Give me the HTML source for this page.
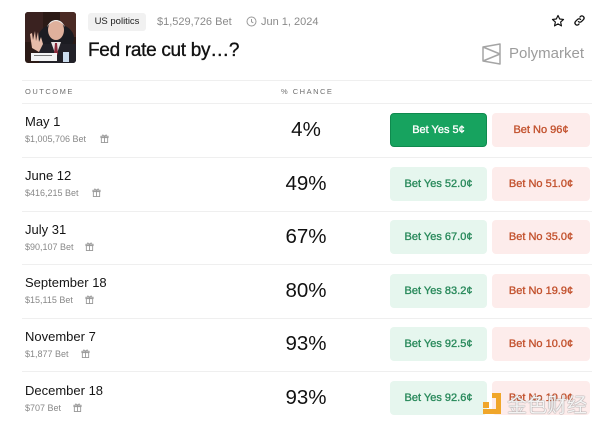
<!DOCTYPE html>
<html><head><meta charset="utf-8">
<style>
*{margin:0;padding:0;box-sizing:border-box}
body{width:600px;height:426px;background:#fff;position:relative;overflow:hidden;font-family:"Liberation Sans","Noto Sans CJK SC",sans-serif;color:#111}
.a{position:absolute;white-space:nowrap}
.line{position:absolute;left:22px;width:570px;height:1px;background:#efefef}
.name{position:absolute;left:25px;font-size:13px;color:#151515;line-height:14px}
.sub{position:absolute;left:25px;font-size:9px;color:#888;line-height:10px}
.pct{position:absolute;left:256px;width:100px;text-align:center;font-size:20.5px;line-height:22px;color:#111}
.btn{position:absolute;height:34px;border-radius:4px;font-size:11px;line-height:34px;text-align:center;-webkit-text-stroke:0.35px currentColor}
.yes{left:390px;width:97px;background:#e6f6ee;color:#2a8a5c}
.yes.on{background:#17a35f;color:#fff;border:1px solid #0f8a4e;line-height:32px}
.no{left:492px;width:98px;background:#fdeceb;color:#c3532f}
.hdr{position:absolute;top:87px;font-size:7.5px;letter-spacing:1.5px;color:#6f6f6f}
</style></head><body>

<!-- photo -->
<svg class="a" style="left:25px;top:12px" width="51" height="51" viewBox="0 0 51 51">
<defs><clipPath id="c"><rect width="51" height="51" rx="3"/></clipPath></defs>
<g clip-path="url(#c)">
<rect width="51" height="51" fill="#2b1a16"/>
<rect x="0" y="0" width="18" height="30" fill="#3a2220"/>
<rect x="35" y="0" width="16" height="25" fill="#4a2a24"/>
<ellipse cx="31" cy="26" rx="18" ry="14" fill="#1c1c22"/>
<rect x="14" y="32" width="37" height="19" fill="#222128"/>
<path d="M26 30 L31 44 L36 30 Z" fill="#e8e4e4"/>
<path d="M30 31 L32 31 L33 42 L31 44 L29 42 Z" fill="#8a2a3a"/>
<ellipse cx="31" cy="18" rx="8" ry="10" fill="#dfb09c"/>
<path d="M22 15 Q31 3 40 15 Q37 8 31 8 Q25 8 22 15 Z" fill="#ecebeb"/>
<path d="M5 22 L7 36 L14 40 L18 32 L16 25 L14 30 L13 20 L11 29 L10 19 L8 28 L7 21 Z" fill="#e6bca9"/>
<rect x="6" y="41" width="26" height="8" fill="#f4f4f4"/>
<rect x="9" y="43" width="18" height="1" fill="#777"/>
<rect x="38" y="40" width="6" height="10" fill="#cde"/>
</g></svg>

<div class="a" style="left:88px;top:13px;width:58px;height:18px;background:#f1f1f1;border-radius:3px;font-size:9.5px;line-height:18px;text-align:center;color:#222">US politics</div>
<div class="a" style="left:157px;top:15px;font-size:11px;color:#8a8a8a;line-height:14px">$1,529,726 Bet</div>
<svg class="a" style="left:246px;top:16px" width="11" height="11" viewBox="0 0 11 11"><circle cx="5.5" cy="5.5" r="4.5" fill="none" stroke="#999" stroke-width="1"/><path d="M5.5 3 V5.8 L7.3 6.8" fill="none" stroke="#999" stroke-width="1"/></svg>
<div class="a" style="left:261px;top:15px;font-size:11px;color:#8a8a8a;line-height:14px">Jun 1, 2024</div>

<div class="a" style="left:88px;top:40px;font-size:19px;line-height:22px;letter-spacing:-0.3px;color:#111;-webkit-text-stroke:0.35px #111">Fed rate cut by…?</div>

<!-- star & link -->
<svg class="a" style="left:551px;top:14px" width="14" height="14" viewBox="0 0 24 24"><path d="M12 2.5 L14.9 8.6 L21.5 9.3 L16.5 13.8 L17.9 20.4 L12 17 L6.1 20.4 L7.5 13.8 L2.5 9.3 L9.1 8.6 Z" fill="none" stroke="#111" stroke-width="2" stroke-linejoin="round"/></svg>
<svg class="a" style="left:573px;top:14px" width="13" height="13" viewBox="0 0 24 24"><path d="M10 14 a4 4 0 0 0 5.6 0 l4-4 a4 4 0 0 0 -5.6 -5.6 l-1.2 1.2" fill="none" stroke="#111" stroke-width="2.4" stroke-linecap="round"/><path d="M14 10 a4 4 0 0 0 -5.6 0 l-4 4 a4 4 0 0 0 5.6 5.6 l1.2 -1.2" fill="none" stroke="#111" stroke-width="2.4" stroke-linecap="round"/></svg>

<!-- Polymarket logo -->
<svg class="a" style="left:482px;top:43px" width="19" height="22" viewBox="0 0 19 22"><path d="M1 4 L18 1 L18 21 L1 18 Z M1 4 L18 11 L1 18" fill="none" stroke="#a5a5a5" stroke-width="1.5" stroke-linejoin="round"/></svg>
<div class="a" style="left:509px;top:45px;font-size:15px;line-height:18px;color:#9c9c9c">Polymarket</div>

<div class="line" style="top:80px"></div>
<div class="hdr" style="left:25px">OUTCOME</div>
<div class="hdr" style="left:281px">% CHANCE</div>
<div class="line" style="top:103px"></div>

<!-- rows -->
<div class="name" style="top:115px">May 1</div>
<div class="sub" style="top:134px">$1,005,706 Bet</div>
<div class="pct" style="top:119px">4%</div>
<div class="btn yes on" style="top:113px">Bet Yes 5¢</div>
<div class="btn no" style="top:113px">Bet No 96¢</div>
<div class="line" style="top:157px"></div>

<div class="name" style="top:169px">June 12</div>
<div class="sub" style="top:188px">$416,215 Bet</div>
<div class="pct" style="top:173px">49%</div>
<div class="btn yes" style="top:167px">Bet Yes 52.0¢</div>
<div class="btn no" style="top:167px">Bet No 51.0¢</div>
<div class="line" style="top:211px"></div>

<div class="name" style="top:223px">July 31</div>
<div class="sub" style="top:242px">$90,107 Bet</div>
<div class="pct" style="top:226px">67%</div>
<div class="btn yes" style="top:220px">Bet Yes 67.0¢</div>
<div class="btn no" style="top:220px">Bet No 35.0¢</div>
<div class="line" style="top:264px"></div>

<div class="name" style="top:276px">September 18</div>
<div class="sub" style="top:295px">$15,115 Bet</div>
<div class="pct" style="top:280px">80%</div>
<div class="btn yes" style="top:274px">Bet Yes 83.2¢</div>
<div class="btn no" style="top:274px">Bet No 19.9¢</div>
<div class="line" style="top:318px"></div>

<div class="name" style="top:330px">November 7</div>
<div class="sub" style="top:349px">$1,877 Bet</div>
<div class="pct" style="top:333px">93%</div>
<div class="btn yes" style="top:327px">Bet Yes 92.5¢</div>
<div class="btn no" style="top:327px">Bet No 10.0¢</div>
<div class="line" style="top:371px"></div>

<div class="name" style="top:384px">December 18</div>
<div class="sub" style="top:403px">$707 Bet</div>
<div class="pct" style="top:387px">93%</div>
<div class="btn yes" style="top:381px">Bet Yes 92.6¢</div>
<div class="btn no" style="top:381px">Bet No 10.0¢</div>

<!-- gift icons -->
<svg class="a" style="left:100px;top:134px" width="9" height="9" viewBox="0 0 10 10"><g fill="none" stroke="#999" stroke-width="1"><rect x="1.5" y="4" width="7" height="5.5"/><rect x="1" y="2.5" width="8" height="1.5"/><path d="M5 2.5 V9.5 M5 2.5 Q3 0 2.5 2 M5 2.5 Q7 0 7.5 2"/></g></svg>
<svg class="a" style="left:92px;top:188px" width="9" height="9" viewBox="0 0 10 10"><g fill="none" stroke="#999" stroke-width="1"><rect x="1.5" y="4" width="7" height="5.5"/><rect x="1" y="2.5" width="8" height="1.5"/><path d="M5 2.5 V9.5 M5 2.5 Q3 0 2.5 2 M5 2.5 Q7 0 7.5 2"/></g></svg>
<svg class="a" style="left:85px;top:242px" width="9" height="9" viewBox="0 0 10 10"><g fill="none" stroke="#999" stroke-width="1"><rect x="1.5" y="4" width="7" height="5.5"/><rect x="1" y="2.5" width="8" height="1.5"/><path d="M5 2.5 V9.5 M5 2.5 Q3 0 2.5 2 M5 2.5 Q7 0 7.5 2"/></g></svg>
<svg class="a" style="left:85px;top:295px" width="9" height="9" viewBox="0 0 10 10"><g fill="none" stroke="#999" stroke-width="1"><rect x="1.5" y="4" width="7" height="5.5"/><rect x="1" y="2.5" width="8" height="1.5"/><path d="M5 2.5 V9.5 M5 2.5 Q3 0 2.5 2 M5 2.5 Q7 0 7.5 2"/></g></svg>
<svg class="a" style="left:81px;top:349px" width="9" height="9" viewBox="0 0 10 10"><g fill="none" stroke="#999" stroke-width="1"><rect x="1.5" y="4" width="7" height="5.5"/><rect x="1" y="2.5" width="8" height="1.5"/><path d="M5 2.5 V9.5 M5 2.5 Q3 0 2.5 2 M5 2.5 Q7 0 7.5 2"/></g></svg>
<svg class="a" style="left:73px;top:403px" width="9" height="9" viewBox="0 0 10 10"><g fill="none" stroke="#999" stroke-width="1"><rect x="1.5" y="4" width="7" height="5.5"/><rect x="1" y="2.5" width="8" height="1.5"/><path d="M5 2.5 V9.5 M5 2.5 Q3 0 2.5 2 M5 2.5 Q7 0 7.5 2"/></g></svg>

<!-- watermark -->
<svg class="a" style="left:483px;top:393px" width="19" height="21" viewBox="0 0 19 21"><rect x="0" y="9" width="6" height="6" fill="#f0a62a"/><path d="M9 0 H18 V21 H0 V16 H13 V5 H9 Z" fill="#f0a62a"/></svg>
<div class="a" style="left:507px;top:392px;font-size:20px;line-height:24px;color:rgba(255,255,255,0.9);font-family:'Noto Sans CJK SC',sans-serif;text-shadow:0 0 1px #888,0 0 1px #888">金色财经</div>

</body></html>
